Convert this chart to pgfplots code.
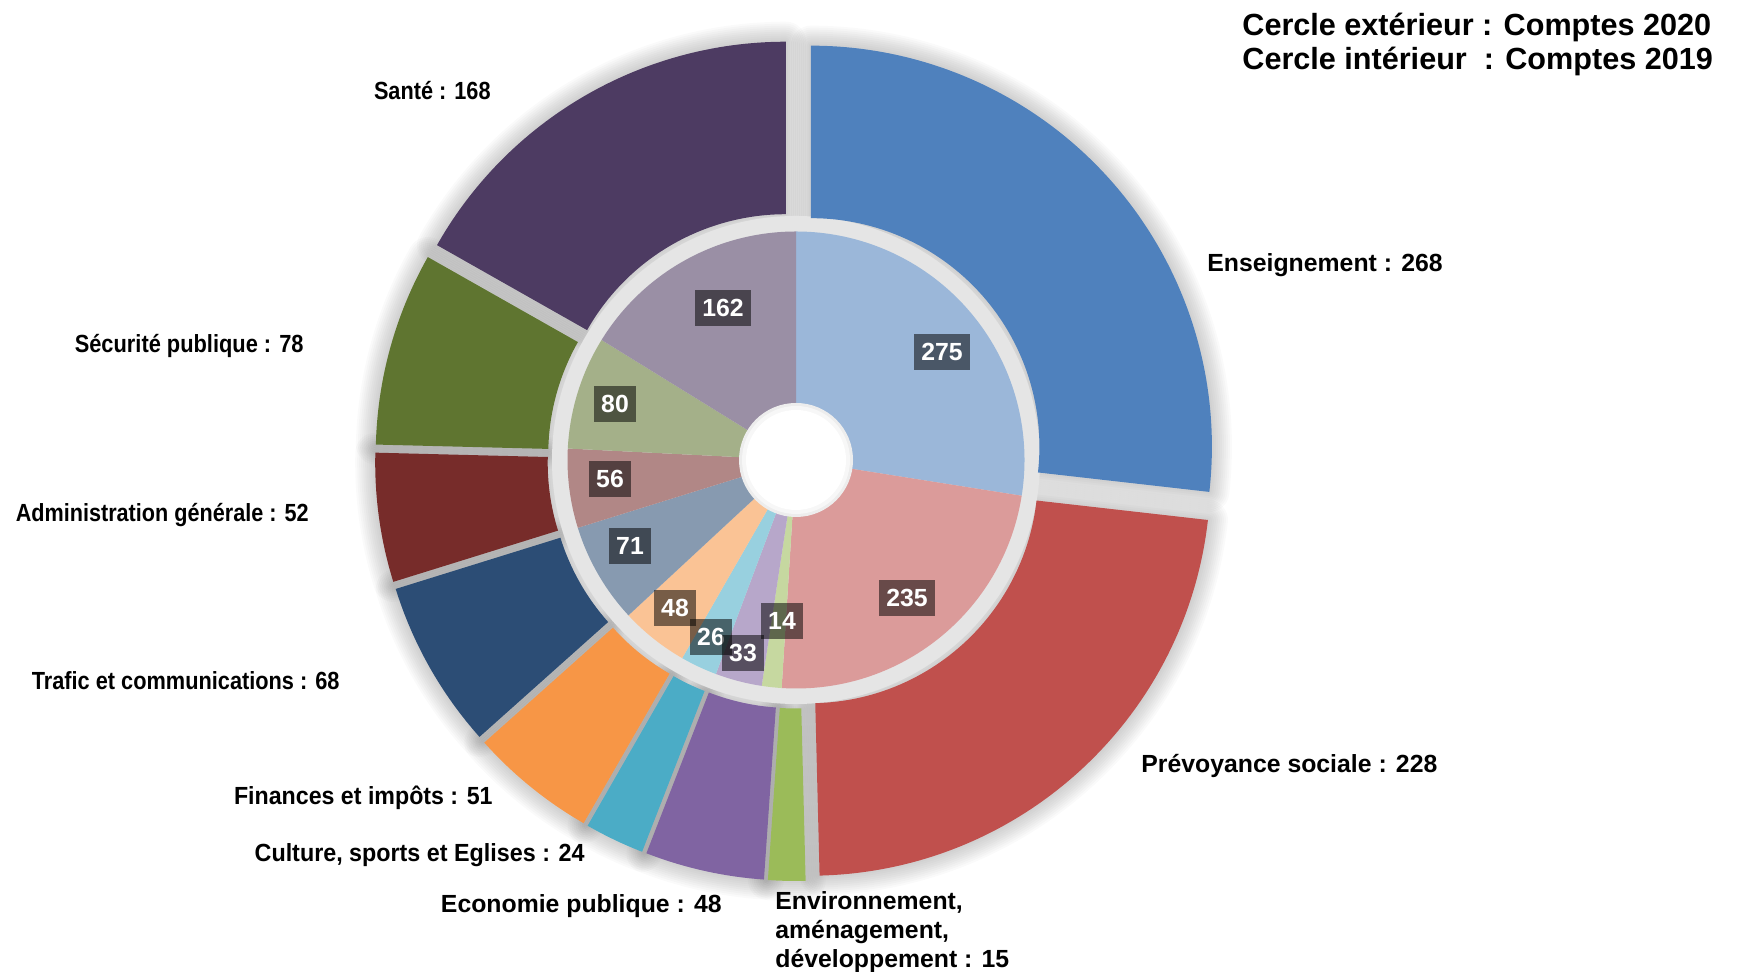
\documentclass[border=0pt]{standalone}
\usepackage{fontspec}
\setmainfont{Liberation Sans}
\usepackage{graphicx}
\usepackage{pgfplots}
\usepackage{pgfplotstable}
\pgfplotsset{compat=1.18}

\definecolor{c0}{HTML}{4F81BD}
\definecolor{c1}{HTML}{C0504D}
\definecolor{c2}{HTML}{9BBB59}
\definecolor{c3}{HTML}{8064A2}
\definecolor{c4}{HTML}{4BACC6}
\definecolor{c5}{HTML}{F79646}
\definecolor{c6}{HTML}{2C4D75}
\definecolor{c7}{HTML}{772C2A}
\definecolor{c8}{HTML}{5F7530}
\definecolor{c9}{HTML}{4D3B62}

% 0 Enseignement, 1 Prevoyance sociale, 2 Environnement, 3 Economie publique,
% 4 Culture, 5 Finances, 6 Trafic, 7 Administration, 8 Securite, 9 Sante
\pgfplotstableread{
id v2020 v2019
0 268 275
1 228 235
2 15 14
3 48 33
4 24 26
5 51 48
6 68 71
7 52 56
8 78 80
9 168 162
}\datatable

\newcommand\annsec[4]{(#1:#3) arc[start angle=#1, end angle=#2, radius=#3] -- (#2:#4) arc[start angle=#2, end angle=#1, radius=#4] -- cycle}
\newcommand\lbl{\fontsize{12.4}{14}\selectfont\bfseries}
\newcommand\sx[2]{\scalebox{#1}[1]{#2}}

\begin{document}
\begin{tikzpicture}
\begin{axis}[x=0.5pt, y=0.5pt, xmin=0, xmax=1744, ymin=0, ymax=972,
  hide axis, clip=false]
\addplot[draw=none] coordinates {(0,0) (1744,972)};
\pgfplotsextra{%
\begin{scope}[shift={(axis cs:796,512)}, x=0.5pt, y=0.5pt]
  % soft shadows of the outer (2020) ring
  \gdef\cum{0}%
  \foreach \i in {0,...,9}{%
    \pgfplotstablegetelem{\i}{v2020}\of\datatable
    \let\myval\pgfplotsretval
    \pgfmathsetmacro\aS{90-0.36*\cum}%
    \pgfmathsetmacro\aE{90-0.36*(\cum+\myval)}%
    \pgfmathsetmacro\aM{(\aS+\aE)/2}%
    \pgfmathsetmacro\newcum{\cum+\myval}\xdef\cum{\newcum}%
    \foreach \w in {20,18,...,2}{%
      \draw[black, opacity=0.02, line width=\w pt, line join=round, shift={(\aM:20)}] \annsec{\aS}{\aE}{228.5}{401};}
  }
  % grey band round the inner ring
  \fill[black!10] (0pt,0pt) circle[radius=122pt];
  % outer (2020) ring
  \gdef\cum{0}%
  \foreach \i in {0,...,9}{%
    \pgfplotstablegetelem{\i}{v2020}\of\datatable
    \let\myval\pgfplotsretval
    \pgfmathsetmacro\aS{90-0.36*\cum}%
    \pgfmathsetmacro\aE{90-0.36*(\cum+\myval)}%
    \pgfmathsetmacro\aM{(\aS+\aE)/2}%
    \pgfmathsetmacro\newcum{\cum+\myval}\xdef\cum{\newcum}%
    \fill[c\i, shift={(\aM:20)}] \annsec{\aS}{\aE}{228.5}{401};
  }
  % inner (2019) ring
  \gdef\cum{0}%
  \foreach \i in {0,...,9}{%
    \pgfplotstablegetelem{\i}{v2019}\of\datatable
    \let\myval\pgfplotsretval
    \pgfmathsetmacro\aS{90-0.36*\cum}%
    \pgfmathsetmacro\aE{90-0.36*(\cum+\myval)}%
    \pgfmathsetmacro\newcum{\cum+\myval}\xdef\cum{\newcum}%
    \fill[c\i!57!white] \annsec{\aS}{\aE}{56}{228.5};
  }
  % hole of the doughnut
  \fill[black!7] (0pt,0pt) circle[radius=28.5pt];
  \fill[black!3] (0pt,0pt) circle[radius=27pt];
  \fill[white] (0pt,0pt) circle[radius=25pt];
\end{scope}
}

% inner labels (2019)
\tikzset{ibox/.style={fill=black, fill opacity=0.52, text opacity=1, text=white,
  inner xsep=3.5pt, inner ysep=0pt, minimum height=18pt, font=\lbl}}
\node[ibox] at (axis cs:942,620) {275};
\node[ibox] at (axis cs:907,374) {235};
\node[ibox] at (axis cs:782,351) {14};
\node[ibox] at (axis cs:675,364) {48};
\node[ibox] at (axis cs:711,335) {26};
\node[ibox] at (axis cs:743,319) {33};
\node[ibox] at (axis cs:630,426) {71};
\node[ibox] at (axis cs:610,493) {56};
\node[ibox] at (axis cs:615,568) {80};
\node[ibox] at (axis cs:723,664) {162};

% outer labels (2020)
\tikzset{olbl/.style={inner sep=0pt, font=\lbl}}
\node[olbl, anchor=mid west] at (axis cs:1207,706) {\sx{1.0}{Enseignement : 268}};
\node[olbl, anchor=mid west] at (axis cs:1141,205) {\sx{1.0}{Prévoyance sociale : 228}};
\node[olbl, anchor=mid west] at (axis cs:775,68) {\sx{1.0}{Environnement,}};
\node[olbl, anchor=mid west] at (axis cs:775,39) {\sx{1.0}{aménagement,}};
\node[olbl, anchor=mid west] at (axis cs:775,10) {\sx{1.0}{développement : 15}};
\node[olbl, anchor=mid east] at (axis cs:722,65) {\sx{1.0}{Economie publique : 48}};
\node[olbl, anchor=mid east] at (axis cs:585,116) {\sx{0.94}{Culture, sports et Eglises : 24}};
\node[olbl, anchor=mid east] at (axis cs:493,173) {\sx{0.935}{Finances et impôts : 51}};
\node[olbl, anchor=mid east] at (axis cs:340,288) {\sx{0.877}{Trafic et communications : 68}};
\node[olbl, anchor=mid east] at (axis cs:309,456) {\sx{0.872}{Administration générale : 52}};
\node[olbl, anchor=mid east] at (axis cs:304,625) {\sx{0.88}{Sécurité publique : 78}};
\node[olbl, anchor=mid east] at (axis cs:491,878) {\sx{0.875}{Santé : 168}};

% title
\node[inner sep=0pt, anchor=mid west, font=\fontsize{15.3}{18}\selectfont\bfseries] at (axis cs:1242,942) {Cercle extérieur : Comptes 2020};
\node[inner sep=0pt, anchor=mid west, font=\fontsize{15.3}{18}\selectfont\bfseries] at (axis cs:1242,908) {Cercle intérieur\ \ : Comptes 2019};
\end{axis}
\pgfresetboundingbox
\path[use as bounding box] (0,0) rectangle (872pt,486pt);
\end{tikzpicture}
\end{document}
